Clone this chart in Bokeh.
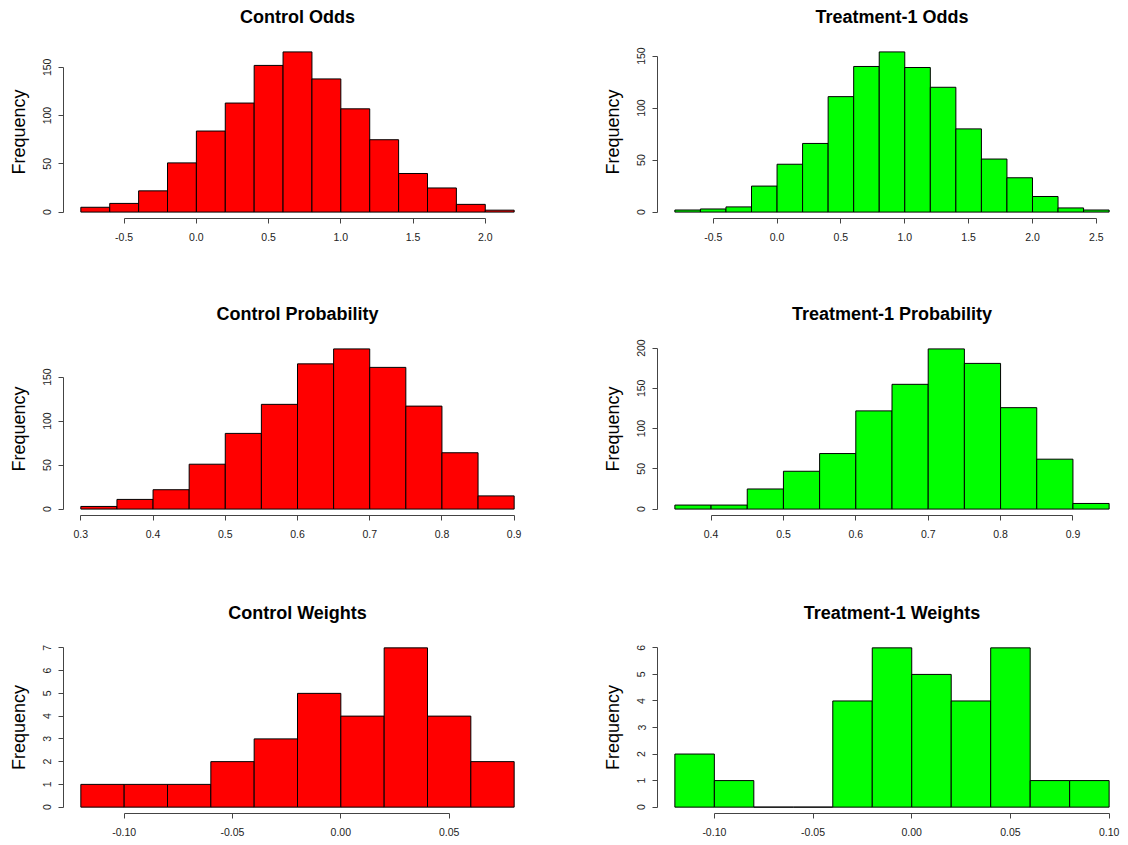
from bokeh.plotting import figure
from bokeh.layouts import column, row
from bokeh.models import Range1d, FixedTicker, PrintfTickFormatter, Title, LinearAxis
from bokeh.embed import file_html
from bokeh.resources import INLINE

# ---- histogram data: bin edges and counts per panel ----
ctrl_odds_breaks = [-0.8, -0.6, -0.4, -0.2, 0.0, 0.2, 0.4, 0.6, 0.8, 1.0, 1.2, 1.4, 1.6, 1.8, 2.0, 2.2]
ctrl_odds_counts = [5, 9, 22, 51, 84, 113, 152, 166, 138, 107, 75, 40, 25, 8, 2]
ctrl_odds_xticks = [-0.5, 0.0, 0.5, 1.0, 1.5, 2.0]
ctrl_odds_yticks = [0, 50, 100, 150]

trt_odds_breaks = [-0.8, -0.6, -0.4, -0.2, 0.0, 0.2, 0.4, 0.6, 0.8, 1.0, 1.2, 1.4, 1.6, 1.8, 2.0, 2.2, 2.4, 2.6]
trt_odds_counts = [2, 3, 5, 25, 46, 66, 111, 140, 154, 139, 120, 80, 51, 33, 15, 4, 2]
trt_odds_xticks = [-0.5, 0.0, 0.5, 1.0, 1.5, 2.0, 2.5]
trt_odds_yticks = [0, 50, 100, 150]

ctrl_prob_breaks = [0.30, 0.35, 0.40, 0.45, 0.50, 0.55, 0.60, 0.65, 0.70, 0.75, 0.80, 0.85, 0.90]
ctrl_prob_counts = [3, 11, 22, 51, 86, 119, 165, 182, 161, 117, 64, 15]
ctrl_prob_xticks = [0.3, 0.4, 0.5, 0.6, 0.7, 0.8, 0.9]
ctrl_prob_yticks = [0, 50, 100, 150]

trt_prob_breaks = [0.35, 0.40, 0.45, 0.50, 0.55, 0.60, 0.65, 0.70, 0.75, 0.80, 0.85, 0.90, 0.95]
trt_prob_counts = [5, 5, 25, 47, 69, 122, 155, 199, 181, 126, 62, 7]
trt_prob_xticks = [0.4, 0.5, 0.6, 0.7, 0.8, 0.9]
trt_prob_yticks = [0, 50, 100, 150, 200]

ctrl_w_breaks = [-0.12, -0.10, -0.08, -0.06, -0.04, -0.02, 0.00, 0.02, 0.04, 0.06, 0.08]
ctrl_w_counts = [1, 1, 1, 2, 3, 5, 4, 7, 4, 2]
ctrl_w_xticks = [-0.10, -0.05, 0.00, 0.05]
ctrl_w_yticks = [0, 1, 2, 3, 4, 5, 6, 7]

trt_w_breaks = [-0.12, -0.10, -0.08, -0.06, -0.04, -0.02, 0.00, 0.02, 0.04, 0.06, 0.08, 0.10]
trt_w_counts = [2, 1, 0, 0, 4, 6, 5, 4, 6, 1, 1]
trt_w_xticks = [-0.10, -0.05, 0.00, 0.05, 0.10]
trt_w_yticks = [0, 1, 2, 3, 4, 5, 6]

RED = "#FF0000"
GREEN = "#00FF00"
FONT = "Liberation Sans"

PANEL_W = 564
# row geometry: (height, top border, bottom border)
ROWS = [(282, 45, 64), (281, 60, 48), (282, 78, 32)]
# column geometry: (left border, right border)
COLS = [(63, 33), (93, 2)]
TITLE_GAP = 17  # blank band between the frame and the title, px


def hist_panel(title, breaks, counts, xticks, yticks, fmt, color, r, c):
    h, bt, bb = ROWS[r]
    bl, br = COLS[c]
    span = breaks[-1] - breaks[0]
    top = max(counts)
    p = figure(
        width=PANEL_W, height=h,
        x_range=Range1d(breaks[0] - 0.04 * span, breaks[-1] + 0.04 * span),
        y_range=Range1d(-0.04 * top, 1.04 * top),
        output_backend="svg", toolbar_location=None,
        min_border_left=bl, min_border_right=br,
        min_border_top=bt, min_border_bottom=bb,
    )
    p.quad(left=breaks[:-1], right=breaks[1:], bottom=0, top=counts,
           fill_color=color, line_color="black", line_width=1)

    p.xgrid.visible = False
    p.ygrid.visible = False
    p.outline_line_color = None
    p.background_fill_color = "white"
    p.border_fill_color = "white"

    xa = p.below[0]
    ya = p.left[0]
    for ax in (xa, ya):
        ax.axis_line_color = "#444444"
        ax.major_tick_line_color = "#444444"
        ax.major_tick_out = 5
        ax.major_tick_in = 0
        ax.minor_tick_line_color = None
        ax.major_label_text_font = FONT
        ax.major_label_text_font_size = "10.5px"
        ax.major_label_text_color = "#222222"

    xa.ticker = FixedTicker(ticks=xticks)
    xa.bounds = (xticks[0], xticks[-1])
    xa.formatter = PrintfTickFormatter(format=fmt)
    xa.major_label_standoff = 9

    ya.ticker = FixedTicker(ticks=yticks)
    ya.bounds = (yticks[0], yticks[-1])
    ya.major_label_orientation = "vertical"
    ya.major_label_standoff = 7
    ya.axis_label = "Frequency"
    ya.axis_label_text_font = FONT
    ya.axis_label_text_font_size = "18px"
    ya.axis_label_text_font_style = "normal"
    ya.axis_label_text_color = "black"
    ya.axis_label_standoff = 12

    # invisible top axis: one unlabelled, unstroked tick reserves the band
    # between the frame and the title
    gap = LinearAxis(ticker=FixedTicker(ticks=[xticks[0]]),
                     formatter=PrintfTickFormatter(format=""),
                     axis_line_color=None, major_tick_line_color=None,
                     minor_tick_line_color=None, major_tick_out=TITLE_GAP,
                     major_tick_in=0, minor_tick_out=0, major_label_standoff=0)
    p.add_layout(gap, "above")

    p.add_layout(Title(text=title, align="center", text_font=FONT,
                       text_font_size="18px", text_font_style="bold",
                       text_color="black", standoff=4), "above")
    return p


p1 = hist_panel("Control Odds", ctrl_odds_breaks, ctrl_odds_counts, ctrl_odds_xticks, ctrl_odds_yticks, "%.1f", RED, 0, 0)
p2 = hist_panel("Treatment-1 Odds", trt_odds_breaks, trt_odds_counts, trt_odds_xticks, trt_odds_yticks, "%.1f", GREEN, 0, 1)
p3 = hist_panel("Control Probability", ctrl_prob_breaks, ctrl_prob_counts, ctrl_prob_xticks, ctrl_prob_yticks, "%.1f", RED, 1, 0)
p4 = hist_panel("Treatment-1 Probability", trt_prob_breaks, trt_prob_counts, trt_prob_xticks, trt_prob_yticks, "%.1f", GREEN, 1, 1)
p5 = hist_panel("Control Weights", ctrl_w_breaks, ctrl_w_counts, ctrl_w_xticks, ctrl_w_yticks, "%.2f", RED, 2, 0)
p6 = hist_panel("Treatment-1 Weights", trt_w_breaks, trt_w_counts, trt_w_xticks, trt_w_yticks, "%.2f", GREEN, 2, 1)

layout = column(row(p1, p2), row(p3, p4), row(p5, p6))

with open("out.html", "w") as f:
    f.write(file_html(layout, INLINE))
